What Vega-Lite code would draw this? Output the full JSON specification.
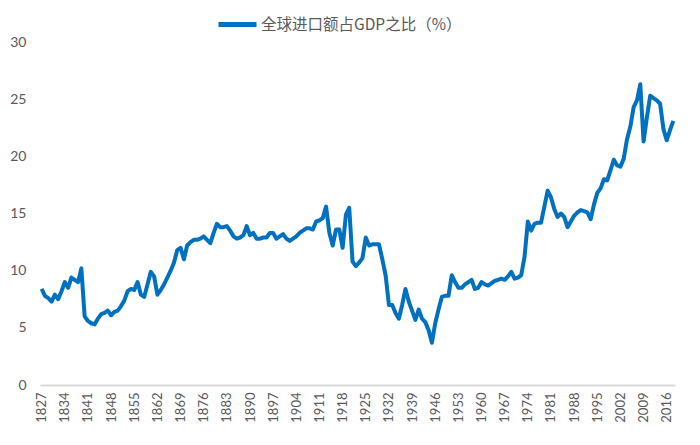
{
  "$schema": "https://vega.github.io/schema/vega-lite/v6.json",
  "width": 635,
  "height": 343,
  "autosize": {"type": "none"},
  "padding": {"left": 40, "top": 42, "right": 25, "bottom": 60},
  "background": "white",
  "config": {
    "view": {"stroke": null},
    "font": "Lato",
    "axis": {"labelColor": "#595959", "labelFont": "Lato", "grid": false, "ticks": false, "title": null}
  },
  "data": {
    "values": [
      {"year": 1827, "v": 8.4}, {"year": 1828, "v": 7.8}, {"year": 1829, "v": 7.6}, {"year": 1830, "v": 7.3},
      {"year": 1831, "v": 7.9}, {"year": 1832, "v": 7.5}, {"year": 1833, "v": 8.2}, {"year": 1834, "v": 9.0},
      {"year": 1835, "v": 8.5}, {"year": 1836, "v": 9.4}, {"year": 1837, "v": 9.2}, {"year": 1838, "v": 9.0},
      {"year": 1839, "v": 10.2}, {"year": 1840, "v": 6.0}, {"year": 1841, "v": 5.6}, {"year": 1842, "v": 5.4},
      {"year": 1843, "v": 5.3}, {"year": 1844, "v": 5.8}, {"year": 1845, "v": 6.2}, {"year": 1846, "v": 6.3},
      {"year": 1847, "v": 6.5}, {"year": 1848, "v": 6.1}, {"year": 1849, "v": 6.4}, {"year": 1850, "v": 6.5},
      {"year": 1851, "v": 6.9}, {"year": 1852, "v": 7.4}, {"year": 1853, "v": 8.2}, {"year": 1854, "v": 8.4},
      {"year": 1855, "v": 8.3}, {"year": 1856, "v": 9.0}, {"year": 1857, "v": 7.9}, {"year": 1858, "v": 7.7},
      {"year": 1859, "v": 8.8}, {"year": 1860, "v": 9.9}, {"year": 1861, "v": 9.5}, {"year": 1862, "v": 7.9},
      {"year": 1863, "v": 8.3}, {"year": 1864, "v": 8.8}, {"year": 1865, "v": 9.4}, {"year": 1866, "v": 10.0},
      {"year": 1867, "v": 10.7}, {"year": 1868, "v": 11.8}, {"year": 1869, "v": 12.0}, {"year": 1870, "v": 11.0},
      {"year": 1871, "v": 12.2}, {"year": 1872, "v": 12.5}, {"year": 1873, "v": 12.7}, {"year": 1874, "v": 12.7},
      {"year": 1875, "v": 12.8}, {"year": 1876, "v": 13.0}, {"year": 1877, "v": 12.7}, {"year": 1878, "v": 12.4},
      {"year": 1879, "v": 13.3}, {"year": 1880, "v": 14.1}, {"year": 1881, "v": 13.8}, {"year": 1882, "v": 13.8},
      {"year": 1883, "v": 13.9}, {"year": 1884, "v": 13.5}, {"year": 1885, "v": 13.0}, {"year": 1886, "v": 12.8},
      {"year": 1887, "v": 12.9}, {"year": 1888, "v": 13.1}, {"year": 1889, "v": 13.9}, {"year": 1890, "v": 13.1},
      {"year": 1891, "v": 13.3}, {"year": 1892, "v": 12.8}, {"year": 1893, "v": 12.8}, {"year": 1894, "v": 12.9},
      {"year": 1895, "v": 12.9}, {"year": 1896, "v": 13.3}, {"year": 1897, "v": 13.3}, {"year": 1898, "v": 12.8},
      {"year": 1899, "v": 13.0}, {"year": 1900, "v": 13.2}, {"year": 1901, "v": 12.8}, {"year": 1902, "v": 12.6},
      {"year": 1903, "v": 12.8}, {"year": 1904, "v": 13.0}, {"year": 1905, "v": 13.3}, {"year": 1906, "v": 13.5},
      {"year": 1907, "v": 13.7}, {"year": 1908, "v": 13.7}, {"year": 1909, "v": 13.6}, {"year": 1910, "v": 14.3},
      {"year": 1911, "v": 14.4}, {"year": 1912, "v": 14.6}, {"year": 1913, "v": 15.6}, {"year": 1914, "v": 13.3},
      {"year": 1915, "v": 12.2}, {"year": 1916, "v": 13.6}, {"year": 1917, "v": 13.6}, {"year": 1918, "v": 12.0},
      {"year": 1919, "v": 14.9}, {"year": 1920, "v": 15.5}, {"year": 1921, "v": 10.8}, {"year": 1922, "v": 10.4},
      {"year": 1923, "v": 10.7}, {"year": 1924, "v": 11.1}, {"year": 1925, "v": 12.9}, {"year": 1926, "v": 12.2},
      {"year": 1927, "v": 12.3}, {"year": 1928, "v": 12.3}, {"year": 1929, "v": 12.3}, {"year": 1930, "v": 11.0},
      {"year": 1931, "v": 9.6}, {"year": 1932, "v": 7.0}, {"year": 1933, "v": 7.0}, {"year": 1934, "v": 6.3},
      {"year": 1935, "v": 5.8}, {"year": 1936, "v": 7.0}, {"year": 1937, "v": 8.4}, {"year": 1938, "v": 7.3},
      {"year": 1939, "v": 6.5}, {"year": 1940, "v": 5.7}, {"year": 1941, "v": 6.6}, {"year": 1942, "v": 5.8},
      {"year": 1943, "v": 5.5}, {"year": 1944, "v": 4.8}, {"year": 1945, "v": 3.7}, {"year": 1946, "v": 5.4},
      {"year": 1947, "v": 6.6}, {"year": 1948, "v": 7.7}, {"year": 1949, "v": 7.8}, {"year": 1950, "v": 7.8},
      {"year": 1951, "v": 9.6}, {"year": 1952, "v": 9.0}, {"year": 1953, "v": 8.5}, {"year": 1954, "v": 8.5},
      {"year": 1955, "v": 8.8}, {"year": 1956, "v": 9.0}, {"year": 1957, "v": 9.2}, {"year": 1958, "v": 8.4},
      {"year": 1959, "v": 8.5}, {"year": 1960, "v": 9.0}, {"year": 1961, "v": 8.8}, {"year": 1962, "v": 8.7},
      {"year": 1963, "v": 8.9}, {"year": 1964, "v": 9.1}, {"year": 1965, "v": 9.2}, {"year": 1966, "v": 9.3},
      {"year": 1967, "v": 9.2}, {"year": 1968, "v": 9.5}, {"year": 1969, "v": 9.9}, {"year": 1970, "v": 9.3},
      {"year": 1971, "v": 9.4}, {"year": 1972, "v": 9.6}, {"year": 1973, "v": 11.2}, {"year": 1974, "v": 14.3},
      {"year": 1975, "v": 13.5}, {"year": 1976, "v": 14.1}, {"year": 1977, "v": 14.2}, {"year": 1978, "v": 14.2},
      {"year": 1979, "v": 15.6}, {"year": 1980, "v": 17.0}, {"year": 1981, "v": 16.4}, {"year": 1982, "v": 15.4},
      {"year": 1983, "v": 14.7}, {"year": 1984, "v": 15.0}, {"year": 1985, "v": 14.7}, {"year": 1986, "v": 13.8},
      {"year": 1987, "v": 14.3}, {"year": 1988, "v": 14.8}, {"year": 1989, "v": 15.1}, {"year": 1990, "v": 15.3},
      {"year": 1991, "v": 15.2}, {"year": 1992, "v": 15.1}, {"year": 1993, "v": 14.5}, {"year": 1994, "v": 15.8},
      {"year": 1995, "v": 16.8}, {"year": 1996, "v": 17.2}, {"year": 1997, "v": 18.0}, {"year": 1998, "v": 17.9},
      {"year": 1999, "v": 18.8}, {"year": 2000, "v": 19.7}, {"year": 2001, "v": 19.2}, {"year": 2002, "v": 19.1},
      {"year": 2003, "v": 19.8}, {"year": 2004, "v": 21.5}, {"year": 2005, "v": 22.6}, {"year": 2006, "v": 24.3},
      {"year": 2007, "v": 24.9}, {"year": 2008, "v": 26.3}, {"year": 2009, "v": 21.3}, {"year": 2010, "v": 23.4},
      {"year": 2011, "v": 25.3}, {"year": 2012, "v": 25.1}, {"year": 2013, "v": 24.9}, {"year": 2014, "v": 24.6},
      {"year": 2015, "v": 22.4}, {"year": 2016, "v": 21.4}, {"year": 2017, "v": 22.3}, {"year": 2018, "v": 23.1}
    ]
  },
  "transform": [
    {"calculate": "'全球进口额占GDP之比（%）'", "as": "series"}
  ],
  "mark": {"type": "line", "strokeWidth": 4, "strokeJoin": "round", "strokeCap": "butt"},
  "encoding": {
    "x": {
      "field": "year",
      "type": "quantitative",
      "scale": {"domain": [1826.5, 2018.5], "nice": false, "zero": false},
      "axis": {
        "values": [1827, 1834, 1841, 1848, 1855, 1862, 1869, 1876, 1883, 1890, 1897, 1904, 1911, 1918, 1925, 1932, 1939, 1946, 1953, 1960, 1967, 1974, 1981, 1988, 1995, 2002, 2009, 2016],
        "format": "d",
        "labelAngle": -90,
        "labelAlign": "right",
        "labelBaseline": "middle",
        "labelPadding": 7,
        "labelFontSize": 13,
        "labelFlush": false,
        "labelOverlap": false,
        "domainColor": "#d9d9d9",
        "domainWidth": 2
      }
    },
    "y": {
      "field": "v",
      "type": "quantitative",
      "scale": {"domain": [0, 30], "nice": false},
      "axis": {
        "values": [0, 5, 10, 15, 20, 25, 30],
        "domain": false,
        "labelFontSize": 14,
        "labelPadding": 14
      }
    },
    "color": {
      "field": "series",
      "type": "nominal",
      "scale": {"range": ["#0070C0"]},
      "legend": {
        "title": null,
        "orient": "none",
        "legendX": 176,
        "legendY": -39,
        "symbolType": "stroke",
        "symbolSize": 1444,
        "symbolStrokeWidth": 5,
        "labelFontSize": 15.5,
        "labelColor": "#595959",
        "labelFont": "Noto Sans CJK SC",
        "labelLimit": 400,
        "labelOffset": 2
      }
    }
  }
}
